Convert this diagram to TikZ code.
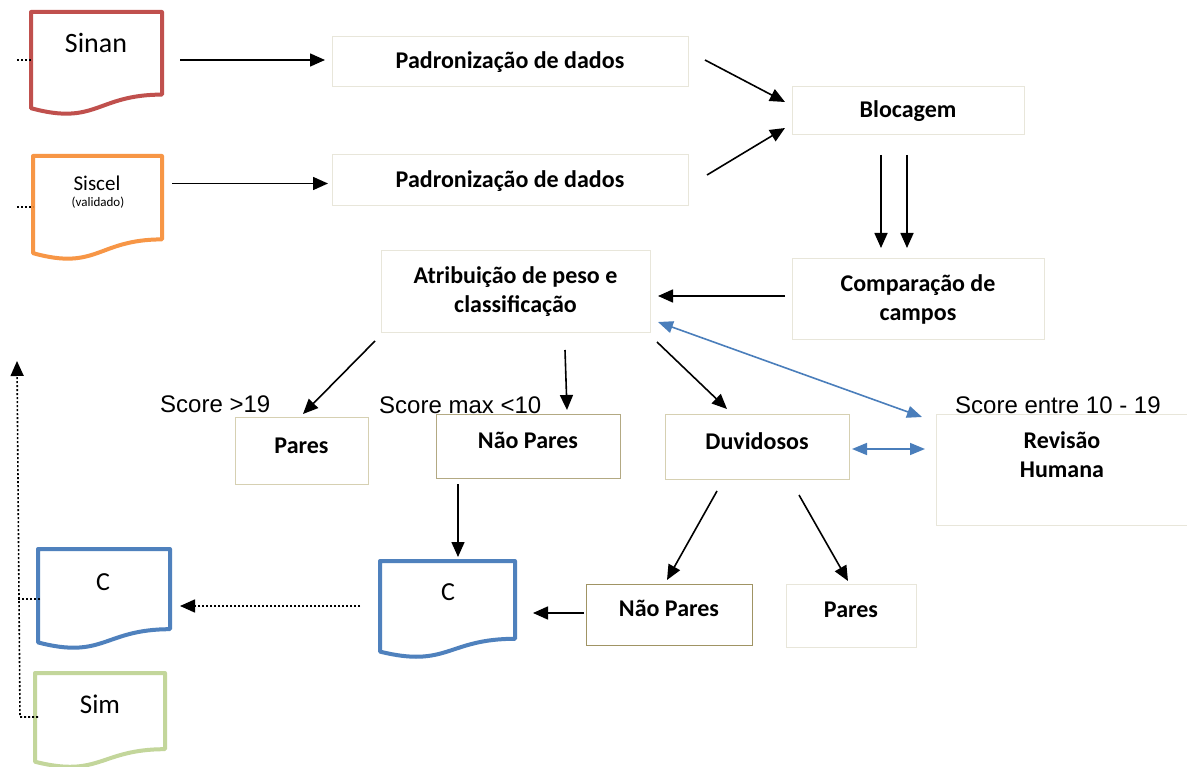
\documentclass[tikz,border=0pt]{standalone}
\usepackage{fontspec}
\setmainfont{Carlito}
\newfontfamily\arialf{Liberation Sans}
\usetikzlibrary{calc,arrows.meta}
\definecolor{cred}{HTML}{C0504D}
\definecolor{corange}{HTML}{F79646}
\definecolor{cblue}{HTML}{4F81BD}
\definecolor{cgreen}{HTML}{C3D69B}
\definecolor{carrblue}{HTML}{4A7EBB}
\definecolor{blight}{HTML}{E8E6DA}
\definecolor{btan}{HTML}{D6D0B2}
\definecolor{bolive}{HTML}{A09464}
\tikzset{
  docnode/.style={rectangle, inner sep=0pt, outer sep=0pt},
  docline/.style={line width=4pt, line join=round},
  box/.style={rectangle, draw, line width=1pt, inner sep=0pt, outer sep=0pt},
  bt/.style={font=\fontsize{24}{29}\selectfont\bfseries, align=center, inner sep=0pt},
  dt/.style={inner sep=0pt, align=center},
  sc/.style={font=\arialf\fontsize{24}{28}\selectfont, inner sep=0pt, anchor=west},
  arr/.style={line width=1.6pt, -{Triangle[length=15pt,width=13pt]}},
  barr/.style={line width=1.6pt, carrblue, {Triangle[length=15pt,width=12pt]}-{Triangle[length=15pt,width=12pt]}},
  dotline/.style={line width=1.6pt, dash pattern=on 2pt off 2pt},
  dotarr/.style={dotline, -{Triangle[length=15pt,width=13pt]}}
}
\newcommand\docpath[2]{%
  \draw[docline,#2] (#1.north west) -- (#1.north east)
    -- ($(#1.north east)!0.802!(#1.south east)$)
    .. controls ($(#1.north)!0.802!(#1.south)$) and ($(#1.north)!1.107!(#1.south)$)
    .. ($(#1.north west)!0.934!(#1.south west)$) -- cycle;}
\begin{document}
\begin{tikzpicture}[x=1pt,y=-1pt]
\useasboundingbox (0,0) rectangle (1187,767);
\fill[white] (0,0) rectangle (1187,767);

% document shapes
\node[docnode, minimum width=131pt, minimum height=103pt] (sinan) at (96.5,63.5) {};
\docpath{sinan}{cred}
\node[dt, font=\fontsize{28}{32}\selectfont] at (96,43) {Sinan};

\node[docnode, minimum width=129pt, minimum height=104pt] (siscel) at (97.5,208) {};
\docpath{siscel}{corange}
\node[dt, font=\fontsize{21}{24}\selectfont] at (97,183) {Siscel};
\node[dt, font=\fontsize{13}{15}\selectfont] at (98,203) {(validado)};

\node[docnode, minimum width=132pt, minimum height=100pt] (cleft) at (104,599) {};
\docpath{cleft}{cblue}
\node[dt, font=\fontsize{26}{30}\selectfont] at (103,582) {C};

\node[docnode, minimum width=130pt, minimum height=95pt] (sim) at (100,720.5) {};
\docpath{sim}{cgreen}
\node[dt, font=\fontsize{27}{30}\selectfont] at (100,704) {Sim};

\node[docnode, minimum width=135pt, minimum height=97pt] (cmid) at (447.5,609.5) {};
\docpath{cmid}{cblue}
\node[dt, font=\fontsize{26}{30}\selectfont] at (448,592) {C};

% boxes
\node[box, blight, minimum width=356pt, minimum height=50pt] (pad1) at (510,62) {};
\node[bt] at (pad1.center) {Padronização de dados};
\node[box, blight, minimum width=356pt, minimum height=51pt] (pad2) at (510,180.5) {};
\node[bt] at ([yshift=-1pt]pad2.center) {Padronização de dados};
\node[box, blight, minimum width=232pt, minimum height=48pt] (bloc) at (908,111) {};
\node[bt] at (bloc.center) {Blocagem};
\node[box, blight, minimum width=252pt, minimum height=81pt] (comp) at (918,299.5) {};
\node[bt] at (comp.center) {Comparação de\\campos};
\node[box, blight, minimum width=269pt, minimum height=82pt] (atrib) at (515.5,292) {};
\node[bt] at (atrib.center) {Atribuição de peso e\\classificação};
\node[box, btan, minimum width=133pt, minimum height=66pt] (paresL) at (301.5,451) {};
\node[bt] at ([yshift=5pt]paresL.center) {Pares};
\node[box, bolive!80, minimum width=184pt, minimum height=63pt] (naoU) at (528,446.5) {};
\node[bt] at ([yshift=6.5pt]naoU.center) {Não Pares};
\node[box, btan, minimum width=184pt, minimum height=64pt] (duv) at (757,447) {};
\node[bt] at ([yshift=6pt]duv.center) {Duvidosos};
\node[box, blight, minimum width=252pt, minimum height=110pt] (rev) at (1062,470) {};
\node[bt] at ([yshift=15pt]rev.center) {Revisão\\Humana};
\node[box, bolive, minimum width=166pt, minimum height=61pt] (naoL) at (669,614.5) {};
\node[bt] at ([yshift=6pt]naoL.center) {Não Pares};
\node[box, blight, minimum width=130pt, minimum height=63pt] (paresLow) at (851,615.5) {};
\node[bt] at ([yshift=6pt]paresLow.center) {Pares};

% score labels
\node[sc] at (160,404) {Score >19};
\node[sc] at (379,405) {Score max <10};
\node[sc] at (955,405) {Score entre 10 - 19};

% connectors
\draw[arr, shorten <=18pt, shorten >=7pt] ([yshift=2pt]sinan.east |- pad1.west) -- ([yshift=2pt]pad1.west);
\draw[arr, shorten <=10pt, shorten >=4pt] ([yshift=-3pt]siscel.east |- pad2.west) -- ([yshift=-3pt]pad2.west);
\draw[arr] ([shift={(17,-2)}]pad1.east) -- ([shift={(-7,-9)}]bloc.west);
\draw[arr] ([shift={(19,-5.5)}]pad2.east) -- ([shift={(-7,17)}]bloc.west);
\draw[arr] ([shift={(-27,20)}]bloc.south) -- ([shift={(-37,-11)}]comp.north);
\draw[arr] ([shift={(-1,20)}]bloc.south) -- ([shift={(-11,-11)}]comp.north);
\draw[arr] ([shift={(-7,-3.5)}]comp.west) -- ([shift={(8,4)}]atrib.east);
\draw[arr] ([shift={(-6,8)}]atrib.south west) -- ([shift={(1.5,-4)}]paresL.north);
\draw[arr] ([shift={(49.5,17)}]atrib.south) -- ([shift={(39,-5)}]naoU.north);
\draw[arr] ([shift={(7,9)}]atrib.south east) -- ([shift={(-30,-6)}]duv.north);
\draw[barr] ([shift={(8,30)}]atrib.east) -- ([shift={(-14,2)}]rev.north west);
\draw[barr] ([shift={(3,2)}]duv.east) -- ([shift={(-11,-21)}]rev.west);
\draw[arr] ([shift={(-70,6)}]naoU.south) -- ([shift={(10.5,-4)}]cmid.north);
\draw[arr] ([shift={(-40,12)}]duv.south) -- ([shift={(-2,-4)}]naoL.north);
\draw[arr] ([shift={(42,16)}]duv.south) -- ([shift={(-3,-3)}]paresLow.north);
\draw[arr] ([shift={(-2,-1.5)}]naoL.west) -- ([shift={(18,3.5)}]cmid.east);
\draw[dotarr] ([shift={(-20,-3.5)}]cmid.west) -- ([shift={(10,7)}]cleft.east);

% left dotted lines
\coordinate (top) at (17,361);
\coordinate (sinanstub) at (17,60);
\coordinate (siscelstub) at (17,207);
\draw[dotarr] ([shift={(3,-3.5)}]sim.west) -- ([shift={(3,-3.5)}]sim.west -| top) -- (top);
\draw[dotline] ([xshift=2pt]cleft.west) -- (cleft.west -| top);
\draw[dotline] (sinanstub) -- (sinan.west |- sinanstub);
\draw[dotline] (siscelstub) -- (siscel.west |- siscelstub);
\end{tikzpicture}
\end{document}
